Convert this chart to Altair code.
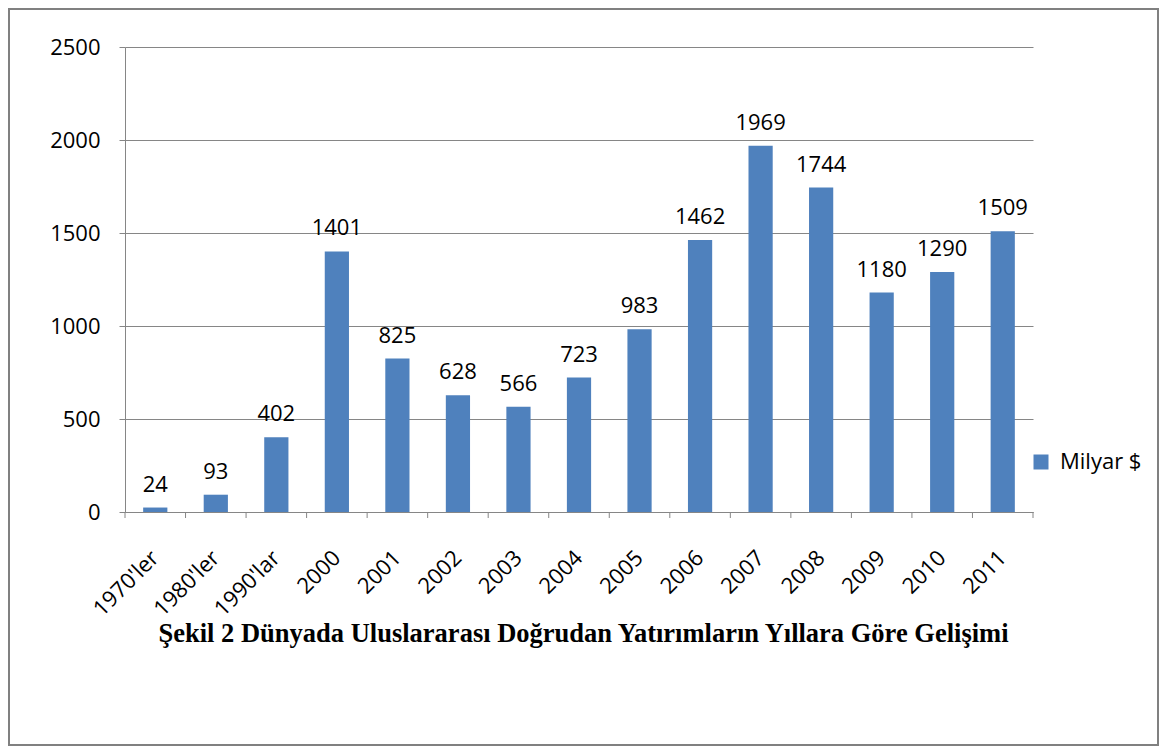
import altair as alt
import pandas as pd

categories = ["1970'ler", "1980'ler", "1990'lar", "2000", "2001", "2002", "2003",
              "2004", "2005", "2006", "2007", "2008", "2009", "2010", "2011"]
values = [24, 93, 402, 1401, 825, 628, 566, 723, 983, 1462, 1969, 1744, 1180, 1290, 1509]
series_name = "Milyar $"
y_ticks = [0, 500, 1000, 1500, 2000, 2500]
title_text = "Şekil 2 Dünyada Uluslararası Doğrudan Yatırımların Yıllara Göre Gelişimi"

df = pd.DataFrame({"cat": categories, "val": values, "series": [series_name] * len(categories)})
last_df = df.tail(1)

W, H = 908, 465
STEP = W / len(categories)
FONT = "Open Sans"
GRAY = "#868686"
BLUE = "#4F81BD"

xscale = alt.Scale(paddingInner=0.6, paddingOuter=0.3)
xenc = alt.X("cat:N", sort=categories, scale=xscale,
             axis=alt.Axis(title=None, labelAngle=-45, labelAlign="right", labelBaseline="middle",
                           labelPadding=42, ticks=False, domainColor=GRAY, labelFont=FONT,
                           labelFontSize=22, labelColor="#000000", grid=False))
yenc = alt.Y("val:Q", scale=alt.Scale(domain=[0, 2500], nice=False),
             axis=alt.Axis(title=None, values=y_ticks, format="d", grid=True, gridColor=GRAY,
                           domainColor=GRAY, tickColor=GRAY, tickSize=6, labelPadding=19,
                           labelFont=FONT, labelFontSize=22, labelColor="#000000"))

bars = alt.Chart(df).mark_bar(color=BLUE).encode(
    x=xenc, y=yenc,
    color=alt.Color("series:N", scale=alt.Scale(domain=[series_name], range=[BLUE]),
                    legend=alt.Legend(title=None, orient="none", legendX=905, legendY=404,
                                      symbolType="square", symbolSize=225, symbolStrokeWidth=0,
                                      labelFont=FONT, labelFontSize=22, labelOffset=8,
                                      labelColor="#000000"))
)

labels = alt.Chart(df).mark_text(font=FONT, fontSize=22, baseline="alphabetic", dy=-16, color="#000000").encode(
    x=alt.X("cat:N", sort=categories), y="val:Q", text="val:Q")

ticks = alt.Chart(df).mark_rule(color=GRAY, xOffset=-STEP / 2).encode(
    x=alt.X("cat:N", sort=categories), y=alt.value(H), y2=alt.value(H + 6))
tick_end = alt.Chart(last_df).mark_rule(color=GRAY, xOffset=STEP / 2).encode(
    x=alt.X("cat:N", sort=categories), y=alt.value(H), y2=alt.value(H + 6))

title = alt.Chart(last_df).mark_text(font="Liberation Serif", fontSize=26.5, fontWeight="bold",
                                     color="#000000", align="center", baseline="alphabetic").encode(
    x=alt.value(458.5), y=alt.value(595), text=alt.value(title_text))

frame = alt.Chart(last_df).mark_rect(fill=None, stroke="#808080", strokeWidth=2).encode(
    x=alt.value(-116), x2=alt.value(1033), y=alt.value(-38), y2=alt.value(698))

chart = alt.layer(bars, labels, ticks, tick_end, title, frame).properties(
    width=W, height=H,
    padding={"left": 117, "top": 39, "right": 127, "bottom": 235},
    autosize=alt.AutoSizeParams(type="none"),
).configure_view(stroke=None).configure_axis(labelFlush=False)

chart.save("out.html", embed_options={"renderer": "svg", "actions": False})
